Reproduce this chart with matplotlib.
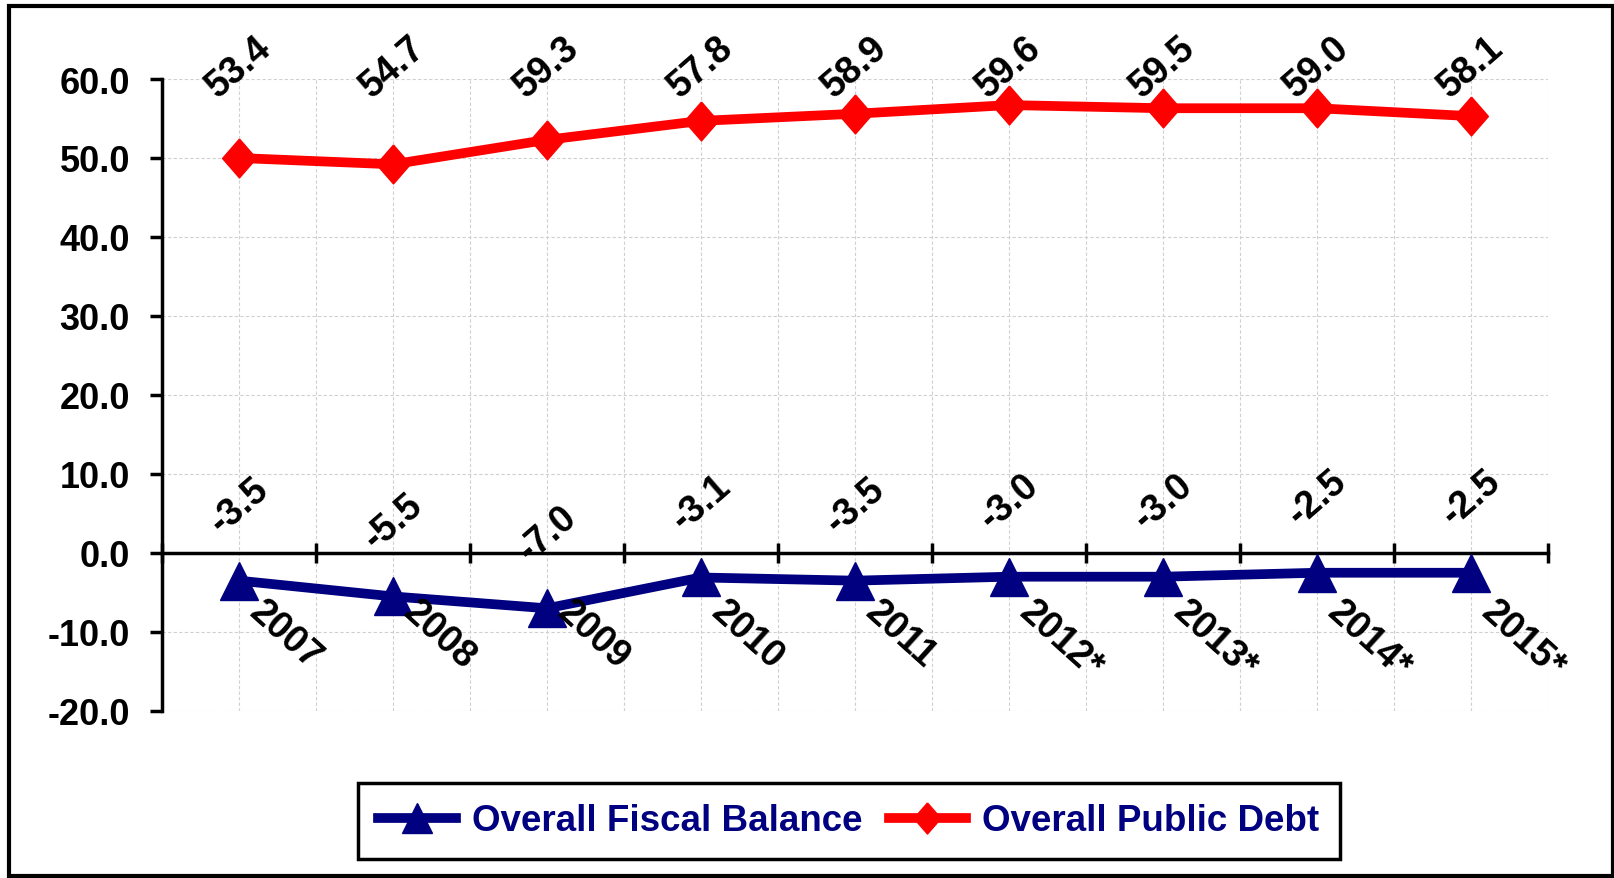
import numpy as np
import matplotlib.pyplot as plt
from matplotlib.transforms import blended_transform_factory
from matplotlib.patches import Rectangle

# --- data ---
years = ["2007", "2008", "2009", "2010", "2011", "2012*", "2013*", "2014*", "2015*"]
fiscal_balance = [-3.5, -5.5, -7.0, -3.1, -3.5, -3.0, -3.0, -2.5, -2.5]
fiscal_labels = ["-3.5", "-5.5", "-7.0", "-3.1", "-3.5", "-3.0", "-3.0", "-2.5", "-2.5"]
# plotted debt line sits lower than its printed labels in the original
public_debt = [50.0, 49.2, 52.3, 54.7, 55.6, 56.7, 56.3, 56.3, 55.3]
debt_labels = ["53.4", "54.7", "59.3", "57.8", "58.9", "59.6", "59.5", "59.0", "58.1"]
y_ticks = [60, 50, 40, 30, 20, 10, 0, -10, -20]

NAVY = "#000080"
RED = "#FF0000"

plt.rcParams["font.family"] = ["Liberation Sans", "DejaVu Sans"]
plt.rcParams["font.weight"] = "bold"

fig = plt.figure(figsize=(16.15, 8.79), dpi=100)
ax = fig.add_axes([162 / 1615, 1 - 712 / 879, (1548 - 162) / 1615, (712 - 80) / 879])

x = np.arange(len(years))
diamond = [(0, 1), (0.87, 0), (0, -1), (-0.87, 0), (0, 1)]

l1, = ax.plot(x, fiscal_balance, color=NAVY, lw=7, marker="^", ms=27, zorder=3)
l2, = ax.plot(x, public_debt, color=RED, lw=7, marker=diamond, ms=28, zorder=3)

ax.set_xlim(-0.5, len(years) - 0.5)
ax.set_ylim(-20, 60)
ax.set_yticks(y_ticks)
ax.set_yticklabels([f"{v:.1f}" for v in y_ticks], fontsize=26, fontweight="bold")
ax.tick_params(axis="y", direction="out", length=9, width=2.5, pad=14)

# category centres (grid only) and boundaries (tick marks + grid)
ax.set_xticks(x)
ax.set_xticklabels([])
ax.set_xticks(np.arange(len(years) + 1) - 0.5, minor=True)
ax.tick_params(axis="x", which="major", length=0)
ax.tick_params(axis="x", which="minor", direction="inout", length=15, width=2.5)
ax.grid(True, which="both", color="#d0d0d0", linestyle=(0, (3, 2)), lw=0.8)
ax.set_axisbelow(True)

for s in ["top", "right"]:
    ax.spines[s].set_visible(False)
ax.spines["left"].set_linewidth(2.5)
ax.spines["bottom"].set_position(("data", 0))
ax.spines["bottom"].set_linewidth(2.5)

# year labels below the zero line
for i, yr in enumerate(years):
    ax.annotate(yr, (i, 0), xytext=(20, -29), textcoords="offset points",
                rotation=-42, rotation_mode="anchor", ha="left", va="top",
                fontsize=27, fontweight="bold")

# fiscal balance labels above the points
for i, lab in enumerate(fiscal_labels):
    ax.annotate(lab, (i, fiscal_balance[i]), xytext=(0, 54), textcoords="offset points",
                rotation=41, rotation_mode="anchor", ha="center", va="center",
                fontsize=27, fontweight="bold")

# debt labels sit in a row above the plot area
trans = blended_transform_factory(ax.transData, ax.transAxes)
for i, lab in enumerate(debt_labels):
    ax.text(i, 1.02, lab, transform=trans, rotation=41, rotation_mode="anchor",
            ha="center", va="center", fontsize=27, fontweight="bold")

leg = fig.legend([l1, l2], ["Overall Fiscal Balance", "Overall Public Debt"],
                 loc="center", bbox_to_anchor=(849 / 1615, 1 - 822 / 879), ncol=2,
                 prop={"size": 26.5, "weight": "bold"}, labelcolor=NAVY,
                 handlelength=2.1, handletextpad=0.45, columnspacing=0.7,
                 markerscale=0.8, fancybox=False, edgecolor="black",
                 framealpha=1, borderpad=0.55, borderaxespad=0)
leg.get_frame().set_linewidth(2.5)

# outer chart border
fig.patches.append(Rectangle((9 / 1615, 2 / 879), 1604 / 1615, 870 / 879,
                             transform=fig.transFigure, fill=False,
                             edgecolor="black", lw=3))

fig.savefig("out.png", dpi=100)
